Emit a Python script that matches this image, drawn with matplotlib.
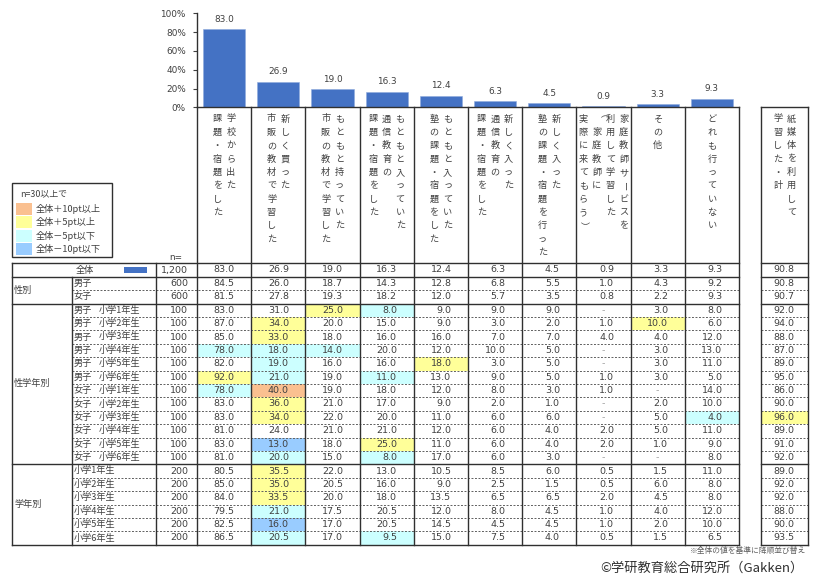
import matplotlib
matplotlib.use("Agg")
import matplotlib.pyplot as plt
from matplotlib.patches import Rectangle
from matplotlib.ticker import FuncFormatter

JP = ['Noto Sans CJK JP', 'DejaVu Sans']
NUM = ['DejaVu Sans']

# ---------------- data ----------------
category_lines = [
    ["学校から出た", "課題・宿題をした"],
    ["新しく買った", "市販の教材で学習した"],
    ["もともと持っていた", "市販の教材で学習した"],
    ["もともと入っていた", "通信教育の", "課題・宿題をした"],
    ["もともと入っていた", "塾の課題・宿題をした"],
    ["新しく入った", "通信教育の", "課題・宿題をした"],
    ["新しく入った", "塾の課題・宿題を行った"],
    ["家庭教師サービスを", "利用して学習した", "（家庭教師に", "実際に来てもらう）"],
    ["その他"],
    ["どれも行っていない"],
]
paper_lines = ["紙媒体を利用して", "学習した・計"]

overall = [83.0, 26.9, 19.0, 16.3, 12.4, 6.3, 4.5, 0.9, 3.3, 9.3]
total_label = "全体"
total_n = 1200
total_paper = 90.8

gender_labels = ["男子", "女子"]
gender_n = [600, 600]
gender_values = [
    [84.5, 26.0, 18.7, 14.3, 12.8, 6.8, 5.5, 1.0, 4.3, 9.2],
    [81.5, 27.8, 19.3, 18.2, 12.0, 5.7, 3.5, 0.8, 2.2, 9.3],
]
gender_paper = [90.8, 90.7]

sg_sex = ["男子"] * 6 + ["女子"] * 6
sg_grade = ["小学1年生", "小学2年生", "小学3年生", "小学4年生", "小学5年生", "小学6年生"] * 2
sg_n = [100] * 12
sg_values = [
    [83.0, 31.0, 25.0, 8.0, 9.0, 9.0, 9.0, None, 3.0, 8.0],
    [87.0, 34.0, 20.0, 15.0, 9.0, 3.0, 2.0, 1.0, 10.0, 6.0],
    [85.0, 33.0, 18.0, 16.0, 16.0, 7.0, 7.0, 4.0, 4.0, 12.0],
    [78.0, 18.0, 14.0, 20.0, 12.0, 10.0, 5.0, None, 3.0, 13.0],
    [82.0, 19.0, 16.0, 16.0, 18.0, 3.0, 5.0, None, 3.0, 11.0],
    [92.0, 21.0, 19.0, 11.0, 13.0, 9.0, 5.0, 1.0, 3.0, 5.0],
    [78.0, 40.0, 19.0, 18.0, 12.0, 8.0, 3.0, 1.0, None, 14.0],
    [83.0, 36.0, 21.0, 17.0, 9.0, 2.0, 1.0, None, 2.0, 10.0],
    [83.0, 34.0, 22.0, 20.0, 11.0, 6.0, 6.0, None, 5.0, 4.0],
    [81.0, 24.0, 21.0, 21.0, 12.0, 6.0, 4.0, 2.0, 5.0, 11.0],
    [83.0, 13.0, 18.0, 25.0, 11.0, 6.0, 4.0, 2.0, 1.0, 9.0],
    [81.0, 20.0, 15.0, 8.0, 17.0, 6.0, 3.0, None, None, 8.0],
]
sg_paper = [92.0, 94.0, 88.0, 87.0, 89.0, 95.0, 86.0, 90.0, 96.0, 89.0, 91.0, 92.0]

grade_labels = ["小学1年生", "小学2年生", "小学3年生", "小学4年生", "小学5年生", "小学6年生"]
grade_n = [200] * 6
grade_values = [
    [80.5, 35.5, 22.0, 13.0, 10.5, 8.5, 6.0, 0.5, 1.5, 11.0],
    [85.0, 35.0, 20.5, 16.0, 9.0, 2.5, 1.5, 0.5, 6.0, 8.0],
    [84.0, 33.5, 20.0, 18.0, 13.5, 6.5, 6.5, 2.0, 4.5, 8.0],
    [79.5, 21.0, 17.5, 20.5, 12.0, 8.0, 4.5, 1.0, 4.0, 12.0],
    [82.5, 16.0, 17.0, 20.5, 14.5, 4.5, 4.5, 1.0, 2.0, 10.0],
    [86.5, 20.5, 17.0, 9.5, 15.0, 7.5, 4.0, 0.5, 1.5, 6.5],
]
grade_paper = [89.0, 92.0, 92.0, 88.0, 90.0, 93.5]

group_names = ["性別", "性学年別", "学年別"]
legend_title = "n=30以上で"
legend_labels = ["全体＋10pt以上", "全体＋5pt以上", "全体－5pt以下", "全体－10pt以下"]
legend_colors = ["#FAC090", "#FFFF99", "#CCFFFF", "#99CCFF"]
note_text = "※全体の値を基準に降順並び替え"
credit_text = "©学研教育総合研究所（Gakken）"

BAR_COLOR = "#4472C4"
TXT = "#404040"
LINE = "#303030"

# ---------------- layout (pixels) ----------------
W, H = 822, 585
X0, X1 = 197, 739
NC = len(overall)
CW = (X1 - X0) / NC
PX0, PX1 = 761, 808
AX_TOP, AX_BOT = 13.3, 107.3
T_TOP = 263.3
RH = 13.4
XL, XG, XN = 12, 72, 156

fig = plt.figure(figsize=(W / 100, H / 100), dpi=100)
fig.patch.set_facecolor("white")

# bar chart axes
ax = fig.add_axes([X0 / W, (H - AX_BOT) / H, (X1 - X0) / W, (AX_BOT - AX_TOP) / H])
xs = list(range(NC))
bars = ax.bar(xs, overall, width=0.775, color=BAR_COLOR, edgecolor="#8FAADC", linewidth=0.4, zorder=2)
ax.bar_label(bars, labels=[f"{v:.1f}" for v in overall], padding=4, fontsize=6.4,
             color=TXT, family=NUM)
ax.set_xlim(-0.5, NC - 0.5)
ax.set_ylim(0, 100)
ax.set_yticks([0, 20, 40, 60, 80, 100])
ax.yaxis.set_major_formatter(FuncFormatter(lambda v, p: f"{int(v)}%"))
ax.set_xticks([])
for s in ["top", "right"]:
    ax.spines[s].set_visible(False)
for s in ["left", "bottom"]:
    ax.spines[s].set_color(LINE)
    ax.spines[s].set_linewidth(1.0)
ax.tick_params(axis="y", length=3, width=0.8, pad=5, labelsize=6.4, colors=TXT)
for lab in ax.get_yticklabels():
    lab.set_family(NUM)
ax.patch.set_alpha(0)

# overlay axes in pixel coordinates
ov = fig.add_axes([0, 0, 1, 1], zorder=-1)
ov.set_xlim(0, W)
ov.set_ylim(H, 0)
ov.axis("off")


def hline(y, xa, xb, dashed=False):
    if dashed:
        ov.plot([xa, xb], [y, y], color="#606060", lw=0.7, ls=(0, (2.0, 1.6)), zorder=3)
    else:
        ov.plot([xa, xb], [y, y], color=LINE, lw=1.0, zorder=4)


def vline(x, ya, yb):
    ov.plot([x, x], [ya, yb], color=LINE, lw=1.0, zorder=4)


def cell_color(v, base):
    d = (0.0 if v is None else v) - base
    if d >= 10 - 1e-6:
        return legend_colors[0]
    if d >= 5 - 1e-6:
        return legend_colors[1]
    if d <= -10 + 1e-6:
        return legend_colors[3]
    if d <= -5 + 1e-6:
        return legend_colors[2]
    return None


# assemble rows
rows = []  # (kind, label parts, n, values, paper)
rows.append(("total", [total_label], total_n, overall, total_paper))
for i in range(len(gender_labels)):
    rows.append(("g0", [gender_labels[i]], gender_n[i], gender_values[i], gender_paper[i]))
for i in range(len(sg_sex)):
    rows.append(("g1", [sg_sex[i], sg_grade[i]], sg_n[i], sg_values[i], sg_paper[i]))
for i in range(len(grade_labels)):
    rows.append(("g2", [grade_labels[i]], grade_n[i], grade_values[i], grade_paper[i]))

NR = len(rows)
T_BOT = T_TOP + NR * RH

# vertical category labels
SP_X, SP_Y, Y_START = 13.5, 13.35, 119.0
for c, lines in enumerate(category_lines):
    cx = X0 + CW * (c + 0.5)
    n = len(lines)
    for j, line in enumerate(lines):
        x = cx + ((n - 1) / 2 - j) * SP_X
        for k, ch in enumerate(line):
            rot = -90 if ch in "（）ー" else 0
            ov.text(x, Y_START + k * SP_Y, ch, ha="center", va="center", fontsize=6.6,
                    family=JP, color=TXT, rotation=rot)
pcx = (PX0 + PX1) / 2
for j, line in enumerate(paper_lines):
    x = pcx + ((len(paper_lines) - 1) / 2 - j) * SP_X
    for k, ch in enumerate(line):
        ov.text(x, Y_START + k * SP_Y, ch, ha="center", va="center", fontsize=6.6,
                family=JP, color=TXT)

# table cells
for r, (kind, parts, n, vals, paper) in enumerate(rows):
    yt = T_TOP + r * RH
    yc = yt + RH / 2
    for c, v in enumerate(vals):
        col = cell_color(v, overall[c]) if kind != "total" else None
        xl = X0 + CW * c
        if col:
            ov.add_patch(Rectangle((xl, yt), CW, RH, facecolor=col, edgecolor="none", zorder=1))
        if v is None:
            ov.text(xl + CW / 2, yc, "-", ha="center", va="center", fontsize=6.8,
                    family=NUM, color="#A0A0A0", zorder=5)
        else:
            ov.text(xl + CW - 16.5, yc, f"{v:.1f}", ha="right", va="center", fontsize=6.8,
                    family=NUM, color=TXT, zorder=5)
    pcol = cell_color(paper, total_paper) if kind != "total" else None
    if pcol:
        ov.add_patch(Rectangle((PX0, yt), PX1 - PX0, RH, facecolor=pcol, edgecolor="none", zorder=1))
    ov.text(PX1 - 14, yc, f"{paper:.1f}", ha="right", va="center", fontsize=6.8,
            family=NUM, color=TXT, zorder=5)
    ov.text(188, yc, f"{n:,}", ha="right", va="center", fontsize=6.8, family=NUM, color=TXT, zorder=5)
    if kind == "total":
        ov.text(85, yc, parts[0], ha="center", va="center", fontsize=6.6, family=JP, color=TXT)
        ov.add_patch(Rectangle((124, yt + 4.0), 23, 6.0, facecolor=BAR_COLOR, edgecolor="none"))
    elif kind == "g1":
        ov.text(74, yc, parts[0], ha="left", va="center", fontsize=6.6, family=JP, color=TXT)
        ov.text(99, yc, parts[1], ha="left", va="center", fontsize=6.6, family=JP, color=TXT)
    else:
        ov.text(74, yc, parts[0], ha="left", va="center", fontsize=6.6, family=JP, color=TXT)

# group labels and horizontal lines
kinds = [r[0] for r in rows]
group_kinds = ["g0", "g1", "g2"]
for gi, gk in enumerate(group_kinds):
    idx = [i for i, k in enumerate(kinds) if k == gk]
    ya = T_TOP + idx[0] * RH
    yb = T_TOP + (idx[-1] + 1) * RH
    ov.text(14, (ya + yb) / 2, group_names[gi], ha="left", va="center", fontsize=6.6,
            family=JP, color=TXT)
    for i in idx[1:]:
        y = T_TOP + i * RH
        hline(y, XG, X1, dashed=True)
        hline(y, PX0, PX1, dashed=True)

solid_rows = [0, 1] + [i for i in range(1, NR) if kinds[i] != kinds[i - 1] and i > 1] + [NR]
for i in sorted(set(solid_rows)):
    y = T_TOP + i * RH
    hline(y, XL, X1)
    hline(y, PX0, PX1)

# vertical lines
vline(XL, T_TOP, T_BOT)
vline(XG, T_TOP + RH, T_BOT)
vline(XN, T_TOP, T_BOT)
for c in range(NC + 1):
    vline(X0 + CW * c, AX_BOT, T_BOT)
vline(PX0, AX_BOT, T_BOT)
vline(PX1, AX_BOT, T_BOT)
hline(AX_BOT, PX0, PX1)

ov.text(176, 258, "n=", ha="center", va="center", fontsize=6.4, family=NUM, color=TXT)

# legend box
ov.add_patch(Rectangle((12, 183.3), 100, 73.7, facecolor="white", edgecolor=LINE, lw=1.0, zorder=4))
ov.text(20, 193.3, legend_title, ha="left", va="center", fontsize=6.4, family=JP, color=TXT, zorder=5)
for i, (lab, colr) in enumerate(zip(legend_labels, legend_colors)):
    y = 203 + i * 13.3
    ov.add_patch(Rectangle((16, y), 16, 12, facecolor=colr, edgecolor="none", zorder=5))
    ov.text(36, y + 6, lab, ha="left", va="center", fontsize=6.6, family=JP, color=TXT, zorder=5)

# notes
ov.text(806, 551, note_text, ha="right", va="center", fontsize=5.6, family=JP, color="#606060")
ov.text(803, 568, credit_text, ha="right", va="center", fontsize=9.5, family=JP, color="#303030")

fig.savefig("out.png", dpi=100, facecolor="white")
